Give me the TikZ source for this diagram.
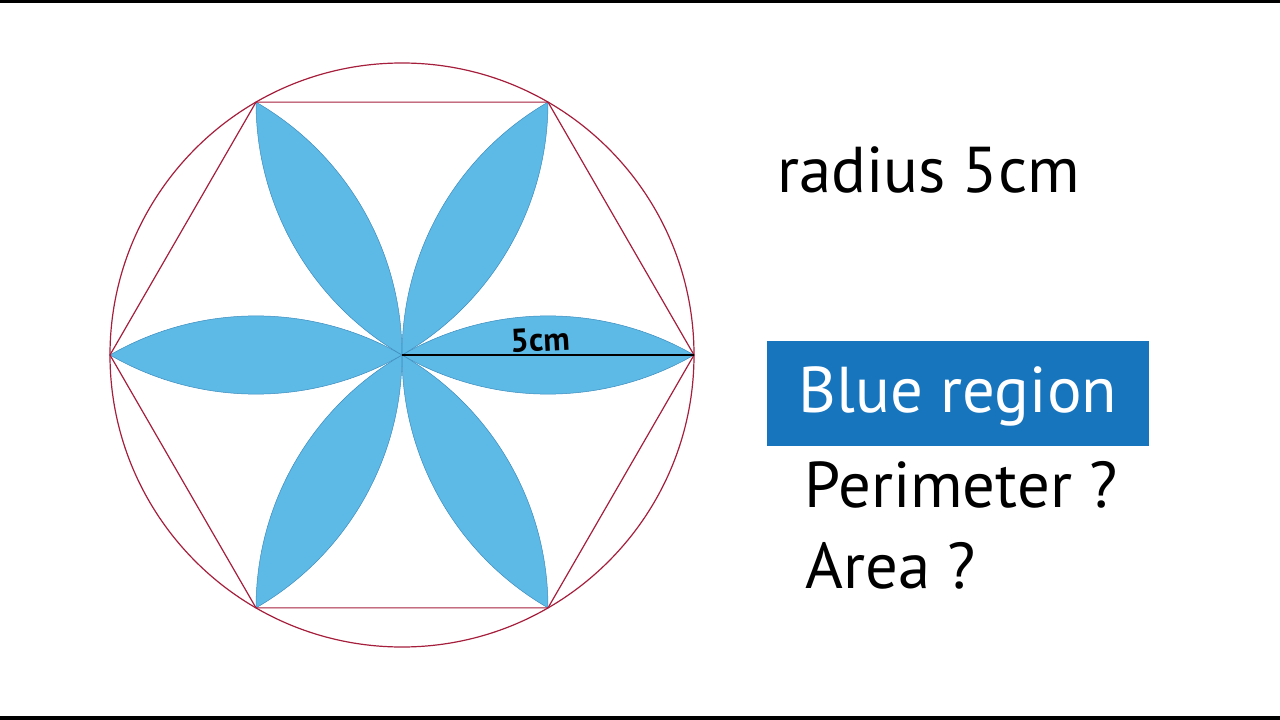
\documentclass[tikz,border=0pt]{standalone}
\usepackage{fontspec}
\setmainfont{PT Sans}
\usepackage{tikz}
\usetikzlibrary{positioning,calc}

\definecolor{petalblue}{RGB}{93,185,230}
\definecolor{petaledge}{RGB}{60,140,190}
\definecolor{ringred}{RGB}{165,30,60}
\definecolor{boxblue}{RGB}{23,117,190}

\tikzset{
  petal/.style={fill=petalblue, draw=petaledge, line width=0.5bp},
  ring/.style={draw=ringred, line width=1.2bp},
  bigtext/.style={font=\fontsize{65}{72}\selectfont, inner sep=0pt, anchor=base west}
}

\begin{document}
\begin{tikzpicture}[x=1bp, y=-1bp]
  \useasboundingbox (0,0) rectangle (1280,720);
  \fill[black] (0,0) rectangle (1280,3);
  \fill[black] (0,716) rectangle (1280,720);

  \coordinate (O) at (402,355);
  \foreach \k in {0,...,5}
    \coordinate (V\k) at ($(O)+(60*\k:292)$);

  % six petals, each bounded by two arcs centred on neighbouring corners
  \foreach \k in {0,...,5}
    \path[petal] (O) arc[start angle=60*\k-120, end angle=60*\k-60, radius=292]
                     arc[start angle=60*\k+60, end angle=60*\k+120, radius=292] -- cycle;

  \draw[ring] (O) circle[radius=292];
  \draw[ring] (V0) -- (V1) -- (V2) -- (V3) -- (V4) -- (V5) -- cycle;

  \draw[line width=1.5bp] (O) -- (V0);
  \node[font=\fontsize{33}{36}\selectfont\bfseries, rotate=3] (len) at (540,340) {5cm};

  \node[bigtext] (radius) at (777,193) {radius 5cm};
  \node[fill=boxblue, text=white, font=\fontsize{65}{72}\selectfont,
        text height=49bp, text depth=12bp,
        minimum width=382bp, minimum height=105bp, inner sep=0pt] (blue) at (958,393.5) {Blue region};
  \node[bigtext] (perim) at (804,507) {Perimeter ?};
  \node[bigtext] (area) at (805,588) {Area ?};
\end{tikzpicture}
\end{document}
